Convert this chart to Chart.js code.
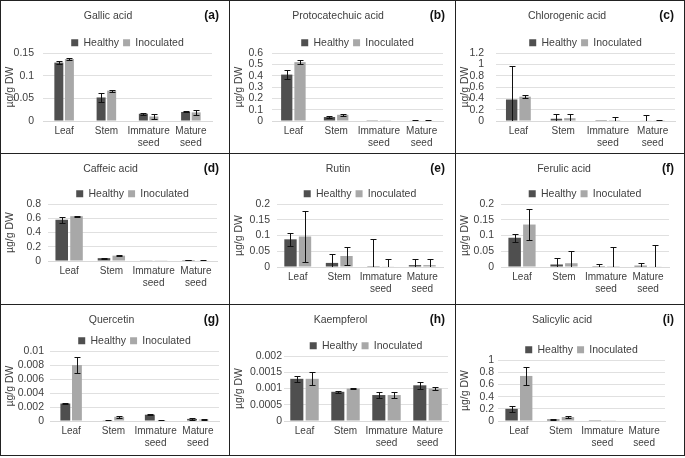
<!DOCTYPE html>
<html>
<head>
<meta charset="utf-8">
<script src="https://cdn.jsdelivr.net/npm/chart.js@4.4.1/dist/chart.umd.min.js"></script>
<style>
  body { margin: 0; background: #fff; font-family: "Liberation Sans", Arial, sans-serif; }
  #wrap { position: relative; width: 685px; height: 458px; overflow: hidden; }
  .panel { position: absolute; box-sizing: border-box; border: 1px solid #222; background: #fff; }
  .panel canvas { position: absolute; left: 0; top: 0; }
  .tag { position: absolute; right: 10px; top: 7px; font: bold 12px "Liberation Sans", Arial, sans-serif; color: #111; }
</style>
</head>
<body>
<div id="wrap"></div>
<script>
// categories on the x axis
const categories = ['Leaf', 'Stem', ['Immature', 'seed'], ['Mature', 'seed']];
const seriesNames = ['Healthy', 'Inoculated'];

// one entry per panel, order a..i
const compounds = ['Gallic acid', 'Protocatechuic acid', 'Chlorogenic acid',
                   'Caffeic acid', 'Rutin', 'Ferulic acid',
                   'Quercetin', 'Kaempferol', 'Salicylic acid'];
const letters = ['(a)', '(b)', '(c)', '(d)', '(e)', '(f)', '(g)', '(h)', '(i)'];
const yMax  = [0.15, 0.6, 1.2, 0.8, 0.2, 0.2, 0.01, 0.002, 1];
const yStep = [0.05, 0.1, 0.2, 0.2, 0.05, 0.05, 0.002, 0.0005, 0.2];

// mean values (µg/g DW)
const healthy = [
  [0.129, 0.052, 0.016, 0.020],
  [0.41, 0.035, 0.002, 0.005],
  [0.38, 0.04, 0.002, 0.01],
  [0.58, 0.04, 0.005, 0.012],
  [0.088, 0.013, 0.0005, 0.006],
  [0.093, 0.008, 0.0005, 0.004],
  [0.0025, 0.0001, 0.0009, 0.0003],
  [0.0013, 0.0009, 0.0008, 0.0011],
  [0.2, 0.025, 0.003, 0.0]
];
const inoculated = [
  [0.137, 0.067, 0.010, 0.019],
  [0.52, 0.055, 0.002, 0.005],
  [0.43, 0.05, 0.002, 0.005],
  [0.63, 0.075, 0.004, 0.008],
  [0.097, 0.035, 0.002, 0.006],
  [0.135, 0.012, 0.0005, 0.002],
  [0.008, 0.0006, 0.0001, 0.0002],
  [0.0013, 0.001, 0.0008, 0.001],
  [0.74, 0.065, 0.005, 0.0]
];
// error bar half-lengths
const healthyErr = [
  [0.003, 0.009, 0.002, 0.001],
  [0.04, 0.005, 0.001, 0.001],
  [0.6, 0.08, 0.005, 0.1],
  [0.04, 0.008, 0.001, 0.002],
  [0.02, 0.028, 0.09, 0.02],
  [0.012, 0.02, 0.008, 0.008],
  [0.0001, 0.0001, 0.0001, 0.0001],
  [0.0001, 0.00003, 0.0001, 0.0001],
  [0.05, 0.005, 0.001, 0]
];
const inoculatedErr = [
  [0.002, 0.002, 0.005, 0.006],
  [0.02, 0.008, 0.001, 0.001],
  [0.03, 0.07, 0.07, 0.01],
  [0.005, 0.008, 0.001, 0.001],
  [0.08, 0.03, 0.022, 0.018],
  [0.05, 0.04, 0.062, 0.067],
  [0.0012, 0.0001, 0.0001, 0.0001],
  [0.0002, 0.00002, 0.00008, 0.00005],
  [0.15, 0.015, 0.001, 0]
];

// panel grid and per-panel spacing (style only)
const colLeft = [0, 229, 455];
const colWidth = [230, 227, 230];
const rowTop = [0, 153, 304];
const rowHeight = [154, 152, 152];
const barShare = [0.5, 0.62, 0.6, 0.7, 0.7, 0.7, 0.55, 0.75, 0.7];
const plotLeft = [42, 42, 40, 47, 47, 45, 49, 54, 42];
const plotRight = [211, 213, 219, 216, 213, 213, 218, 218, 209];
const tickGap = [9, 9, 12, 7, 7, 7, 6, 2, 4];
const titleGap = [11, 11, 11, 9, 9, 9, 5, 10, 14];
const padBottom = [0, 0, 0, 11, 5, 5, 2, 2, 2];

// Chart.js adds a fixed 10px under a horizontal legend; trim part of it
const LegendBox = Chart.Legend._element;
const baseFit = LegendBox.prototype.fit;
LegendBox.prototype.fit = function () {
  baseFit.call(this);
  if (this.isHorizontal()) this.height -= 5;
};

// draw error bars on top of the bars
const errorBars = {
  id: 'errorBars',
  afterDatasetsDraw(chart) {
    const ctx = chart.ctx;
    const y = chart.scales.y;
    const area = chart.chartArea;
    ctx.save();
    ctx.beginPath();
    ctx.rect(area.left, area.top - 2, area.right - area.left, area.bottom - area.top + 2);
    ctx.clip();
    ctx.strokeStyle = '#111';
    ctx.lineWidth = 1;
    chart.data.datasets.forEach((ds, i) => {
      const meta = chart.getDatasetMeta(i);
      meta.data.forEach((bar, j) => {
        const e = ds.errors[j];
        if (!e) return;
        const v = ds.data[j];
        const x = Math.round(bar.x) + 0.5;
        const top = Math.round(y.getPixelForValue(v + e)) + 0.5;
        const bot = Math.round(y.getPixelForValue(Math.max(v - e, 0))) + 0.5;
        ctx.beginPath();
        ctx.moveTo(x, top); ctx.lineTo(x, bot);
        ctx.moveTo(x - 3, top); ctx.lineTo(x + 3, top);
        if (v - e > 0) { ctx.moveTo(x - 3, bot); ctx.lineTo(x + 3, bot); }
        ctx.stroke();
      });
    });
    ctx.restore();
  }
};

const wrap = document.getElementById('wrap');
const font = { family: '"Liberation Sans", Arial, sans-serif', size: 10.5 };
const padLeft = 3;

compounds.forEach((name, k) => {
  const c = k % 3, r = Math.floor(k / 3);
  const panel = document.createElement('div');
  panel.className = 'panel';
  panel.style.left = colLeft[c] + 'px';
  panel.style.top = rowTop[r] + 'px';
  panel.style.width = colWidth[c] + 'px';
  panel.style.height = rowHeight[r] + 'px';
  const canvas = document.createElement('canvas');
  canvas.width = colWidth[c] - 2;
  canvas.height = rowHeight[r] - 2;
  canvas.style.width = canvas.width + 'px';
  canvas.style.height = canvas.height + 'px';
  panel.appendChild(canvas);
  const tag = document.createElement('div');
  tag.className = 'tag';
  tag.textContent = letters[k];
  panel.appendChild(tag);
  wrap.appendChild(panel);

  new Chart(canvas, {
    type: 'bar',
    data: {
      labels: categories,
      datasets: [
        { label: seriesNames[0], data: healthy[k], errors: healthyErr[k], backgroundColor: '#4f4f4f' },
        { label: seriesNames[1], data: inoculated[k], errors: inoculatedErr[k], backgroundColor: '#a8a8a8' }
      ]
    },
    options: {
      responsive: false,
      animation: false,
      categoryPercentage: barShare[k],
      barPercentage: 0.85,
      layout: { padding: { left: padLeft, right: canvas.width - plotRight[k], top: 0, bottom: padBottom[k] } },
      plugins: {
        title: {
          display: true, text: name, color: '#404040',
          font: { ...font, weight: 'normal' },
          padding: { top: 9, bottom: titleGap[k] }
        },
        legend: {
          display: true, position: 'top', fullSize: false,
          labels: { boxWidth: 7, boxHeight: 7, color: '#404040', font: font, padding: 4 }
        },
        tooltip: { enabled: false }
      },
      scales: {
        x: {
          grid: { display: false, drawTicks: false },
          border: { display: true, color: '#d9d9d9' },
          ticks: { color: '#404040', font: { ...font, size: 10 }, maxRotation: 0, autoSkip: false, padding: 4 }
        },
        y: {
          min: 0, max: yMax[k],
          afterFit: s => { s.width = plotLeft[k] - padLeft; },
          ticks: {
            stepSize: yStep[k], autoSkip: false, color: '#404040', font: font, padding: tickGap[k],
            callback: v => String(parseFloat(v.toFixed(6)))
          },
          grid: { color: '#e0e0e0', drawTicks: false },
          border: { display: false },
          title: { display: true, text: 'µg/g DW', color: '#404040', font: font, padding: 0 }
        }
      }
    },
    plugins: [errorBars]
  });
});
</script>
</body>
</html>
